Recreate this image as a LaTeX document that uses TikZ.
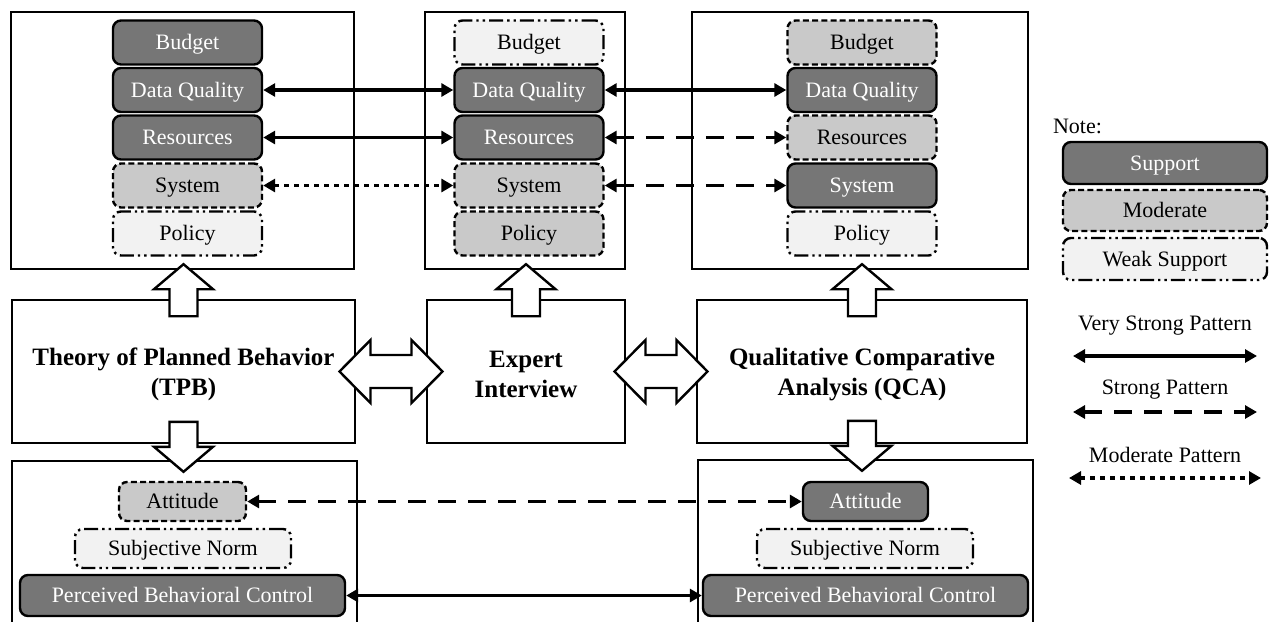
\documentclass[tikz,border=0pt]{standalone}
\usepackage{fontspec}
\setmainfont{Liberation Serif}
\usetikzlibrary{arrows.meta,calc}

\definecolor{supportfill}{RGB}{118,118,118}
\definecolor{moderatefill}{RGB}{201,201,201}
\definecolor{weakfill}{RGB}{242,242,242}

\tikzset{
  panel/.style={draw, line width=1.2pt, fill=white, inner sep=0pt},
  itembox/.style={rounded corners=4pt, line width=1.2pt, inner sep=0pt,
    text height=9pt, text depth=2pt,
    font=\fontsize{11pt}{13pt}\selectfont},
  supp/.style={itembox, draw, fill=supportfill, text=white},
  modbox/.style={itembox, draw, fill=moderatefill, dash pattern=on 3pt off 1.6pt},
  weakbox/.style={itembox, draw, fill=weakfill,
    dash pattern=on 7pt off 2pt on 1.2pt off 2pt on 1.2pt off 2pt},
  topitem/.style={minimum width=74.5pt, minimum height=22pt},
  link/.style={line width=1.6pt,
    {Triangle[length=6pt,width=6.5pt]}-{Triangle[length=6pt,width=6.5pt]}},
  vstrong/.style={link},
  strongln/.style={link, dash pattern=on 9pt off 6pt},
  modln/.style={link, dash pattern=on 2.5pt off 2.5pt},
  blockarrow/.style={draw, line width=1.2pt, fill=white, line join=miter},
  titletext/.style={font=\fontsize{12.5pt}{15pt}\selectfont\bfseries, align=center},
  legendtext/.style={font=\fontsize{11pt}{13pt}\selectfont},
  pics/uparrow/.style={code={
    \draw[blockarrow] (0,-6) -- (29.5,19) -- (14,19) -- (14,46) -- (-14,46)
      -- (-14,19) -- (-29.5,19) -- cycle;}},
  pics/downarrow/.style={code={
    \draw[blockarrow] (0,12) -- (29.5,-13) -- (14,-13) -- (14,-38) -- (-14,-38)
      -- (-14,-13) -- (-29.5,-13) -- cycle;}},
  pics/dblarrow/.style={code={
    \draw[blockarrow] (-#1,0) -- (-#1+31,-31.5) -- (-#1+31,-16.5) -- (#1-31,-16.5)
      -- (#1-31,-31.5) -- (#1,0) -- (#1-31,31.5) -- (#1-31,16.5)
      -- (-#1+31,16.5) -- (-#1+31,31.5) -- cycle;}},
}

\begin{document}
\begin{tikzpicture}[x=0.5pt, y=-0.5pt]
\useasboundingbox (0,0) rectangle (1271,622);
\clip (0,0) rectangle (1271,622);

% ---------- outer panels ----------
\node[panel, minimum width=171.5pt, minimum height=128.5pt] (box1) at (182.5,140.5) {};
\node[panel, minimum width=100pt,   minimum height=128.5pt] (box2) at (525,140.5) {};
\node[panel, minimum width=168pt,   minimum height=128.5pt] (box3) at (860,140.5) {};

\node[panel, minimum width=171.5pt, minimum height=71.5pt] (tpb) at (183.5,371.5) {};
\node[panel, minimum width=99pt,    minimum height=71.5pt] (expert) at (526,371.5) {};
\node[panel, minimum width=165pt,   minimum height=71.5pt] (qca) at (862,371.5) {};

\node[panel, minimum width=172.5pt, minimum height=100pt] (bot1) at (184.5,561) {};
\node[panel, minimum width=167.5pt, minimum height=100pt] (bot2) at (865.5,560) {};

% ---------- method titles ----------
\node[titletext] at ($(tpb.center)+(0,3)$) {Theory of Planned Behavior\\(TPB)};
\node[titletext] at ($(expert.center)+(0,2.5)$) {Expert\\Interview};
\node[titletext] at ($(qca.center)+(0,3)$) {Qualitative Comparative\\Analysis (QCA)};

% ---------- factor stacks ----------
\node[supp,    topitem] (bud1) at (187.5,42.5)  {Budget};
\node[supp,    topitem] (dq1)  at (187.5,90)    {Data Quality};
\node[supp,    topitem] (res1) at (187.5,137.5) {Resources};
\node[modbox,  topitem] (sys1) at (187.5,185.5) {System};
\node[weakbox, topitem] (pol1) at (187.5,233.5) {Policy};

\node[weakbox, topitem] (bud2) at (529,42.5)  {Budget};
\node[supp,    topitem] (dq2)  at (529,90)    {Data Quality};
\node[supp,    topitem] (res2) at (529,137.5) {Resources};
\node[modbox,  topitem] (sys2) at (529,185.5) {System};
\node[modbox,  topitem] (pol2) at (529,233.5) {Policy};

\node[modbox,  topitem] (bud3) at (862,42.5)  {Budget};
\node[supp,    topitem] (dq3)  at (862,90)    {Data Quality};
\node[modbox,  topitem] (res3) at (862,137.5) {Resources};
\node[supp,    topitem] (sys3) at (862,185.5) {System};
\node[weakbox, topitem] (pol3) at (862,233.5) {Policy};

% ---------- TPB constructs ----------
\node[modbox,  minimum width=63.5pt, minimum height=19.5pt] (att1) at (182.5,501.5) {Attitude};
\node[weakbox, minimum width=108pt,  minimum height=19.5pt] (sn1)  at (183,548.5)   {Subjective Norm};
\node[supp,    minimum width=162.5pt, minimum height=20.5pt] (pbc1) at (182.5,595.5) {Perceived Behavioral Control};

\node[supp,    minimum width=62.5pt, minimum height=19.5pt] (att2) at (865.5,501.5) {Attitude};
\node[weakbox, minimum width=108pt,  minimum height=19.5pt] (sn2)  at (865,548.5)   {Subjective Norm};
\node[supp,    minimum width=162.5pt, minimum height=20.5pt] (pbc2) at (865.5,595.5) {Perceived Behavioral Control};

% ---------- block arrows ----------
\pic at (tpb.north |- box1.south) {uparrow};
\pic at (expert.north |- box2.south) {uparrow};
\pic at (qca.north |- box3.south) {uparrow};
\pic at (tpb.south |- bot1.north) {downarrow};
\pic at (qca.south |- bot2.north) {downarrow};
\pic at ($(tpb.east)!0.5!(expert.west)$) {dblarrow=51.5};
\pic at ($(expert.east)!0.5!(qca.west)$) {dblarrow=46.5};

% ---------- pattern links ----------
\draw[vstrong]  (dq1.east)  -- (dq2.west);
\draw[vstrong]  (dq2.east)  -- (dq3.west);
\draw[vstrong]  (res1.east) -- (res2.west);
\draw[strongln] (res2.east) -- (res3.west);
\draw[modln]    (sys1.east) -- (sys2.west);
\draw[strongln] (sys2.east) -- (sys3.west);
\draw[strongln] (att1.east) -- (att2.west);
\draw[vstrong]  (pbc1.east) -- (pbc2.west);

% ---------- legend ----------
\node[legendtext, anchor=west] (note) at (1046,126) {Note:};
\node[supp,    minimum width=102pt, minimum height=21pt]   (lsup)  at (1165,163)   {Support};
\node[modbox,  minimum width=102pt, minimum height=20.5pt] (lmod)  at (1165,210.5) {Moderate};
\node[weakbox, minimum width=102pt, minimum height=21pt]   (lweak) at (1165,259)   {Weak Support};

\node[legendtext] (tvs) at (1165,326) {Very Strong Pattern};
\node[legendtext] (ts)  at (1165,390) {Strong Pattern};
\node[legendtext] (tm)  at (1165,455) {Moderate Pattern};
\coordinate (vsa) at (1073,356);  \coordinate (vsb) at (1257,356);
\coordinate (sa)  at (1073,412);  \coordinate (sb)  at (1257,412);
\coordinate (ma)  at (1069,478);  \coordinate (mb)  at (1261,478);
\draw[vstrong]  (vsa) -- (vsb);
\draw[strongln] (sa)  -- (sb);
\draw[modln]    (ma)  -- (mb);
\end{tikzpicture}
\end{document}
